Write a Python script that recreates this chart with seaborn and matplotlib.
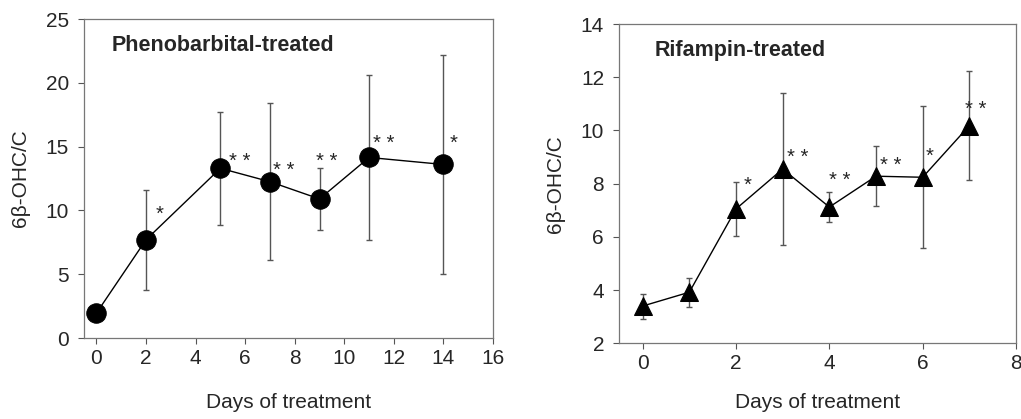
import numpy as np
import pandas as pd
import matplotlib
matplotlib.use("Agg")
import matplotlib.pyplot as plt
import seaborn as sns

# Phenobarbital-treated (mean +/- SD)
pb_days = [0, 2, 5, 7, 9, 11, 14]
pb_mean = [1.95, 7.7, 13.3, 12.25, 10.9, 14.15, 13.6]
pb_sd = [0.0, 3.9, 4.45, 6.15, 2.45, 6.45, 8.6]
pb_stars = ["*", "* *", "* *", "* *", "* *", "*"]
pb_star_x = [2.56, 5.79, 7.57, 9.29, 11.6, 14.4]
pb_star_y = [10.2, 14.3, 13.6, 14.3, 15.7, 15.7]

# Rifampin-treated (mean +/- SD)
rif_days = [0, 1, 2, 3, 4, 5, 6, 7]
rif_mean = [3.4, 3.92, 7.05, 8.55, 7.12, 8.28, 8.24, 10.18]
rif_sd = [0.47, 0.55, 1.0, 2.85, 0.58, 1.13, 2.67, 2.05]
rif_stars = ["*", "* *", "* *", "* *", "*", "* *"]
rif_star_x = [2.24, 3.33, 4.23, 5.32, 6.14, 7.14]
rif_star_y = [8.17, 9.2, 8.33, 8.92, 9.27, 11.02]

sns.set_style("ticks")
plt.rcParams["font.family"] = ["Liberation Sans", "DejaVu Sans"]

FS = 15

fig = plt.figure(figsize=(10.21, 4.19), dpi=100)
ax1 = fig.add_axes([0.0823, 0.1933, 0.4006, 0.7613])
ax2 = fig.add_axes([0.6066, 0.1807, 0.3885, 0.7620])


def panel(ax, days, mean, sd, marker, msize, title, tx, stars, sx, sy):
    ax.errorbar(days, mean, yerr=sd, fmt="none", ecolor="#555555",
                elinewidth=1.0, capsize=2.5, capthick=1.0, zorder=1)
    df = pd.DataFrame({"day": days, "val": mean})
    sns.lineplot(data=df, x="day", y="val", ax=ax, color="black", lw=1.0,
                 marker=marker, markersize=msize, markeredgecolor="black",
                 markerfacecolor="black", zorder=3)
    for st, x, y in zip(stars, sx, sy):
        # glyph centre given; asterisk sits high above the baseline
        ax.annotate(st, (x, y), xytext=(0, -8.3), textcoords="offset points",
                    ha="center", va="baseline", fontsize=14.5)
    ax.text(tx, 0.918, title, transform=ax.transAxes,
            fontsize=15.5, fontweight="bold", va="center")
    ax.set_xlabel("Days of treatment", fontsize=FS, labelpad=18)
    ax.set_ylabel("6β-OHC/C", fontsize=FS, labelpad=11)
    ax.tick_params(labelsize=FS, length=4, width=0.8, color="#555555")
    ax.tick_params(axis="x", pad=4)
    ax.tick_params(axis="y", pad=7)
    for sp in ax.spines.values():
        sp.set_visible(True)
        sp.set_color("#777777")
        sp.set_linewidth(0.9)


panel(ax1, pb_days, pb_mean, pb_sd, "o", 14, "Phenobarbital-treated", 0.068,
      pb_stars, pb_star_x, pb_star_y)
panel(ax2, rif_days, rif_mean, rif_sd, "^", 12.5, "Rifampin-treated", 0.09,
      rif_stars, rif_star_x, rif_star_y)

ax1.set_xlim(-0.5, 16)
ax1.set_ylim(0, 25)
ax1.set_xticks(range(0, 17, 2))
ax1.set_yticks(range(0, 26, 5))

ax2.set_xlim(-0.5, 8)
ax2.set_ylim(2, 14)
ax2.set_xticks(range(0, 9, 2))
ax2.set_yticks(range(2, 15, 2))
ax2.xaxis.labelpad = 14

fig.savefig("out.png", dpi=100)
